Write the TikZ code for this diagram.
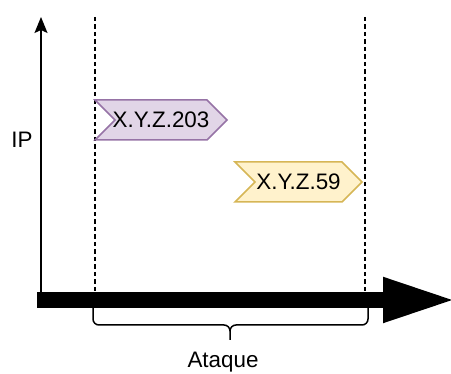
\documentclass[tikz,border=0pt]{standalone}
\usepackage{fontspec}
\setmainfont{Liberation Sans}
\usepackage{tikz}
\usetikzlibrary{positioning,arrows.meta,shapes.symbols}
\definecolor{TagPurpleFill}{RGB}{225,213,231}
\definecolor{TagPurpleLine}{RGB}{150,115,166}
\definecolor{TagYellowFill}{RGB}{255,242,204}
\definecolor{TagYellowLine}{RGB}{214,182,86}
\tikzset{
    iptag/.style={signal,signal to=east,signal from=west,signal pointer angle=90,
        line width=1.5pt,inner ysep=0pt,inner xsep=-4pt,minimum height=40pt,
        font=\fontsize{22.4}{26}\selectfont},
    marker/.style={dashed,dash pattern=on 4.5pt off 3pt,line width=1.4pt}
}

\begin{document}
\begin{tikzpicture}[x=1pt,y=1pt]
            \useasboundingbox (0,0) rectangle (451,374);
            \coordinate (origin) at (41,74);
            \coordinate (tstart) at (37,74);
            \coordinate (tend) at (457,74);
            \coordinate (iptop) at (41,357);
            \coordinate (startTop) at (95,357);
            \coordinate (startBot) at (95,66);
            \coordinate (endTop) at (365,357);
            \coordinate (endBot) at (365,66);
            \draw[marker] (startTop) -- (startBot);
            \draw[marker] (endTop) -- (endBot);
            \draw[-{Stealth[length=16pt,width=13pt,inset=3pt]},line width=1.5pt] (origin) -- (iptop);
            \draw[-{Triangle[length=74pt,width=41pt]},line width=16pt] (tstart) -- (tend);
            \node[font=\fontsize{22.4}{26}\selectfont] (iplabel) at (22,234) {IP};
            \node[iptag,fill=TagPurpleFill,draw=TagPurpleLine,minimum width=132pt] (ip203) at (161,254) {X.Y.Z.203};
            \node[iptag,fill=TagYellowFill,draw=TagYellowLine,minimum width=127pt] (ip59) at (298.5,192) {X.Y.Z.59};
            \draw[line width=1.5pt] (93,66) -- (93,55) arc[start angle=180,end angle=270,radius=6]
                -- (224,49) arc[start angle=90,end angle=0,radius=6] -- (230,34);
            \draw[line width=1.5pt] (368,66) -- (368,55) arc[start angle=0,end angle=-90,radius=6]
                -- (236,49) arc[start angle=90,end angle=180,radius=6];
            \node[font=\fontsize{22.4}{26}\selectfont] (attack) at (223,12) {Ataque};
        \end{tikzpicture}
\end{document}
